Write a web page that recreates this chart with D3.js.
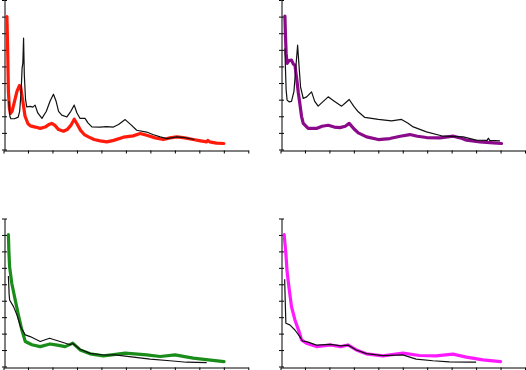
<!DOCTYPE html>
<html><head><meta charset="utf-8">
<script src="https://cdn.jsdelivr.net/npm/d3@7"></script>
<style>body{margin:0;background:#fff}svg{display:block}</style>
</head><body>
<script>
// x and y in axis-tick units (x: 0..10, y: 0..9)
const xTicks = d3.range(0, 11);
const yTicks = d3.range(0, 10);

const redSeries = [[0.14,8.0],[0.17,6.0],[0.2,3.5],[0.24,2.5],[0.28,2.17],[0.35,2.3],[0.45,2.9],[0.55,3.5],[0.65,3.85],[0.7,3.8],[0.78,3.0],[0.88,2.0],[1.0,1.55],[1.1,1.42],[1.3,1.35],[1.5,1.27],[1.7,1.35],[1.85,1.5],[1.97,1.57],[2.1,1.45],[2.25,1.2],[2.45,1.1],[2.6,1.2],[2.75,1.45],[2.89,1.82],[3.0,1.55],[3.15,1.15],[3.3,0.9],[3.47,0.76],[3.7,0.6],[3.95,0.52],[4.22,0.46],[4.5,0.55],[4.9,0.74],[5.3,0.82],[5.58,0.96],[5.85,0.86],[6.2,0.7],[6.53,0.6],[6.8,0.7],[7.08,0.76],[7.4,0.7],[7.75,0.6],[8.05,0.52],[8.3,0.46],[8.35,0.55],[8.42,0.46],[8.7,0.38],[9.0,0.36]];
const blackTL = [[0.22,2.9],[0.26,2.0],[0.3,1.85],[0.45,1.85],[0.6,1.95],[0.66,2.3],[0.72,3.5],[0.76,4.9],[0.79,5.2],[0.82,6.7],[0.85,4.5],[0.9,3.0],[0.95,2.57],[1.1,2.6],[1.2,2.55],[1.29,2.67],[1.4,2.2],[1.57,1.87],[1.75,2.3],[1.9,2.9],[2.04,3.33],[2.15,2.9],[2.25,2.3],[2.38,2.07],[2.59,1.96],[2.75,2.3],[2.89,2.67],[3.0,2.2],[3.13,1.87],[3.33,1.87],[3.45,1.6],[3.61,1.36],[3.95,1.35],[4.2,1.38],[4.49,1.35],[4.7,1.5],[4.97,1.8],[5.2,1.5],[5.44,1.16],[5.85,1.05],[6.1,0.9],[6.4,0.76],[6.67,0.65],[7.08,0.76],[7.4,0.72],[7.8,0.6]];

const purpleSeries = [[0.18,8.03],[0.2,7.0],[0.23,5.8],[0.27,5.18],[0.35,5.35],[0.45,5.38],[0.52,5.15],[0.59,5.08],[0.67,4.17],[0.73,3.4],[0.79,2.77],[0.86,2.0],[0.93,1.57],[1.13,1.27],[1.47,1.27],[1.7,1.4],[1.95,1.46],[2.2,1.35],[2.43,1.32],[2.65,1.4],[2.81,1.57],[3.0,1.25],[3.18,1.0],[3.52,0.76],[4.0,0.6],[4.47,0.66],[4.9,0.8],[5.29,0.9],[5.6,0.8],[5.97,0.72],[6.52,0.7],[7.07,0.8],[7.35,0.7],[7.61,0.56],[8.16,0.46],[8.7,0.4],[9.04,0.36]];
const blackTR = [[0.18,6.08],[0.2,5.0],[0.23,3.6],[0.27,2.97],[0.35,2.87],[0.45,2.9],[0.55,3.5],[0.62,4.8],[0.7,6.28],[0.75,5.2],[0.82,3.77],[0.93,3.07],[1.07,3.17],[1.27,3.47],[1.4,2.9],[1.54,2.61],[1.75,2.9],[1.95,3.17],[2.2,2.9],[2.5,2.61],[2.65,2.8],[2.81,3.01],[3.0,2.6],[3.18,2.27],[3.45,1.93],[4.0,1.81],[4.54,1.72],[4.95,1.81],[5.2,1.6],[5.43,1.36],[5.97,1.06],[6.66,0.8],[7.48,0.76],[8.0,0.56],[8.45,0.55],[8.5,0.68],[8.56,0.55],[8.98,0.52]];

const greenSeries = [[0.2,8.02],[0.22,7.0],[0.25,6.06],[0.34,5.05],[0.48,4.04],[0.61,3.13],[0.75,2.22],[0.89,1.52],[1.16,1.32],[1.5,1.21],[1.9,1.37],[2.2,1.3],[2.52,1.21],[2.83,1.42],[3.13,1.01],[3.54,0.77],[4.08,0.65],[4.5,0.72],[4.97,0.81],[5.85,0.71],[6.4,0.61],[7.01,0.71],[7.4,0.6],[7.75,0.51],[8.37,0.4],[9.01,0.3]];
const blackBL = [[0.2,5.5],[0.23,4.4],[0.25,4.04],[0.41,3.64],[0.55,3.13],[0.7,2.4],[0.89,1.92],[1.09,1.82],[1.5,1.52],[1.88,1.72],[2.31,1.52],[2.72,1.32],[2.83,1.4],[3.13,1.05],[3.54,0.8],[4.08,0.7],[4.56,0.71],[5.31,0.57],[5.99,0.45],[6.8,0.35],[7.48,0.26],[8.3,0.24]];

const magentaSeries = [[0.15,8.02],[0.22,6.87],[0.27,5.76],[0.36,4.65],[0.45,3.64],[0.59,2.83],[0.76,2.12],[0.86,1.62],[1.06,1.42],[1.47,1.21],[2.05,1.31],[2.46,1.21],[2.76,1.31],[3.1,1.01],[3.51,0.77],[4.19,0.65],[5.01,0.81],[5.68,0.67],[6.36,0.65],[7.05,0.75],[7.6,0.57],[8.28,0.4],[9.0,0.3]];
const blackBR = [[0.17,5.3],[0.2,3.6],[0.22,2.63],[0.38,2.53],[0.59,2.22],[0.79,1.82],[0.9,1.55],[1.1,1.5],[1.47,1.3],[2.05,1.35],[2.46,1.25],[2.76,1.3],[3.1,1.0],[3.51,0.78],[4.19,0.66],[5.0,0.71],[5.55,0.45],[6.23,0.35],[6.9,0.28],[7.71,0.26],[8.0,0.26]];

const panels = [
  {x0:3.5, x1:248.3, yTop:0, yBot:149.5, color:"#ff1a0a", series:redSeries, black:blackTL},
  {x0:280.5, x1:525, yTop:0, yBot:149.5, color:"#8a0a8a", series:purpleSeries, black:blackTR},
  {x0:3.5, x1:248.3, yTop:218.5, yBot:366.5, color:"#1a8c1a", series:greenSeries, black:blackBL},
  {x0:280.5, x1:525, yTop:218.5, yBot:366.5, color:"#ff1aff", series:magentaSeries, black:blackBR}
];

const svg = d3.select("body").append("svg").attr("width",526).attr("height",370);

panels.forEach(p => {
  const x = d3.scaleLinear().domain([0,10]).range([p.x0,p.x1]);
  const y = d3.scaleLinear().domain([0,9]).range([p.yBot,p.yTop]);
  const g = svg.append("g");
  // y axis (ticks crossing)
  const yl = g.append("g").attr("transform",`translate(${Math.round(p.x0)+0.5},0)`)
    .call(d3.axisLeft(y).tickValues(yTicks).tickSize(2.5).tickSizeOuter(0).tickFormat(""));
  g.append("g").attr("transform",`translate(${Math.round(p.x0)+0.5},0)`)
    .call(d3.axisRight(y).tickValues(yTicks).tickSize(2.5).tickSizeOuter(0).tickFormat(""))
    .select(".domain").remove();
  // x axis
  g.append("g").attr("transform",`translate(0,${Math.round(p.yBot)+0.5})`)
    .call(d3.axisBottom(x).tickValues(xTicks).tickSize(3).tickSizeOuter(0).tickFormat(""));
  g.selectAll(".domain, .tick line").attr("stroke","#000").attr("stroke-width",1);

  const line = d3.line().x(d=>x(d[0])).y(d=>y(d[1]));
  g.append("path").datum(p.series).attr("d",line).attr("fill","none")
    .attr("stroke",p.color).attr("stroke-width",3.2).attr("stroke-linejoin","round").attr("stroke-linecap","round");
  g.append("path").datum(p.black).attr("d",line).attr("fill","none")
    .attr("stroke","#111").attr("stroke-width",1.2).attr("stroke-linejoin","round");
});
</script>
</body></html>
